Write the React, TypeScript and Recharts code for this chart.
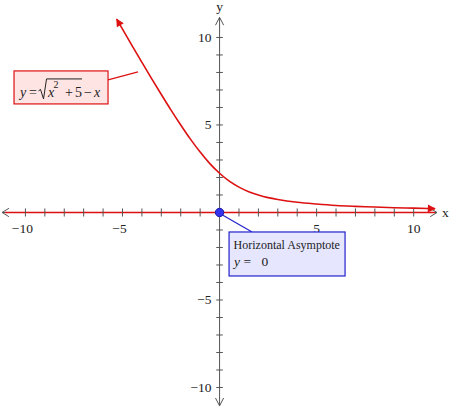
import { ComposedChart, Line, XAxis, YAxis, ReferenceLine, ReferenceDot } from "recharts"

// curve y = sqrt(x^2 + 5) - x
const curveX = [-5.3, -5, -4.5, -4, -3.5, -3, -2.5, -2, -1.5, -1, -0.5, 0, 0.5, 1, 1.5, 2, 2.5, 3, 4, 5, 6, 7, 8, 9, 10, 11.1]
const curveY = [11.05, 10.48, 9.52, 8.58, 7.65, 6.74, 5.85, 5.0, 4.19, 3.45, 2.79, 2.24, 1.79, 1.45, 1.19, 1.0, 0.85, 0.74, 0.58, 0.48, 0.4, 0.35, 0.31, 0.27, 0.25, 0.22]
const xTicks = [-10, -9, -8, -7, -6, -5, -4, -3, -2, -1, 1, 2, 3, 4, 5, 6, 7, 8, 9, 10]
const yTicks = [-10, -9, -8, -7, -6, -5, -4, -3, -2, -1, 1, 2, 3, 4, 5, 6, 7, 8, 9, 10]
const xLabels = [-10, -5, 5, 10]
const yLabels = [10, 5, -5, -10]

const data = curveX.map((x, i) => ({ x, y: curveY[i] }))

const RED = "#dd1111"
const GRAY = "#555555"
const FONT = "Liberation Serif"

const fmt = (v: number) => (v < 0 ? "\u2212" + Math.abs(v) : String(v))

export default function App() {
  return (
    <div style={{ position: "absolute", left: 0, top: 0 }}>
      <ComposedChart width={450} height={412} data={data} margin={{ top: 0, right: 0, bottom: 0, left: 0 }}>
        <defs>
          <marker id="redArrow" viewBox="0 0 10 10" refX="9" refY="5" markerWidth="10" markerHeight="8" markerUnits="userSpaceOnUse" orient="auto-start-reverse">
            <path d="M0,0 L10,5 L0,10 z" fill={RED} />
          </marker>
        </defs>
        <XAxis type="number" dataKey="x" domain={[-11.31, 11.87]} hide allowDataOverflow />
        <YAxis type="number" domain={[-11.4, 12.14]} hide allowDataOverflow />

        {/* axes */}
        <ReferenceLine segment={[{ x: -11.2, y: 0 }, { x: 11.2, y: 0 }]} stroke={GRAY} strokeWidth={1} />
        <ReferenceLine segment={[{ x: 0, y: -11.05 }, { x: 0, y: 11.15 }]} stroke={GRAY} strokeWidth={1} />
        <ReferenceLine segment={[{ x: -11.05, y: 0 }, { x: 11.1, y: 0 }]} stroke={RED} strokeWidth={1.5} />

        {/* axis arrow chevrons */}
        <ReferenceLine segment={[{ x: 11.2, y: 0 }, { x: 10.85, y: 0.24 }]} stroke={GRAY} />
        <ReferenceLine segment={[{ x: 11.2, y: 0 }, { x: 10.85, y: -0.24 }]} stroke={GRAY} />
        <ReferenceLine segment={[{ x: -11.2, y: 0 }, { x: -10.85, y: 0.24 }]} stroke={GRAY} />
        <ReferenceLine segment={[{ x: -11.2, y: 0 }, { x: -10.85, y: -0.24 }]} stroke={GRAY} />
        <ReferenceLine segment={[{ x: 0, y: 11.15 }, { x: 0.21, y: 10.7 }]} stroke={GRAY} />
        <ReferenceLine segment={[{ x: 0, y: 11.15 }, { x: -0.21, y: 10.7 }]} stroke={GRAY} />
        <ReferenceLine segment={[{ x: 0, y: -11.05 }, { x: 0.21, y: -10.6 }]} stroke={GRAY} />
        <ReferenceLine segment={[{ x: 0, y: -11.05 }, { x: -0.21, y: -10.6 }]} stroke={GRAY} />

        {/* tick marks */}
        {xTicks.map((t) => (
          <ReferenceLine key={"xt" + t} segment={[{ x: t, y: -0.23 }, { x: t, y: 0.23 }]} stroke={GRAY} />
        ))}
        {yTicks.map((t) => (
          <ReferenceLine key={"yt" + t} segment={[{ x: -0.17, y: t }, { x: 0.17, y: t }]} stroke={GRAY} />
        ))}

        {/* tick labels */}
        {xLabels.map((t) => (
          <ReferenceDot
            key={"xl" + t}
            x={t}
            y={0}
            r={0}
            shape={(p: any) => (
              <text x={p.cx - (t < 0 ? 3 : 0)} y={p.cy + 21} textAnchor="middle" fontFamily={FONT} fontSize={13.5} fill="#222">
                {fmt(t)}
              </text>
            )}
          />
        ))}
        {yLabels.map((t) => (
          <ReferenceDot
            key={"yl" + t}
            x={0}
            y={t}
            r={0}
            shape={(p: any) => (
              <text x={p.cx - 8} y={p.cy + 4.5} textAnchor="end" fontFamily={FONT} fontSize={13.5} fill="#222">
                {fmt(t)}
              </text>
            )}
          />
        ))}
        <ReferenceDot x={11.2} y={0} r={0} shape={(p: any) => (
          <text x={p.cx + 5} y={p.cy + 4.5} fontFamily={FONT} fontSize={13.5} fill="#222">x</text>
        )} />
        <ReferenceDot x={0} y={11.15} r={0} shape={(p: any) => (
          <text x={p.cx} y={p.cy - 6} textAnchor="middle" fontFamily={FONT} fontSize={13.5} fill="#222">y</text>
        )} />

        {/* the curve */}
        <Line
          type="monotone"
          dataKey="y"
          stroke={RED}
          strokeWidth={1.6}
          dot={false}
          activeDot={false}
          isAnimationActive={false}
          markerStart="url(#redArrow)"
          markerEnd="url(#redArrow)"
        />

        {/* equation label */}
        <ReferenceDot
          x={-4.2}
          y={8.03}
          r={0}
          shape={(p: any) => {
            const cx = p.cx
            const cy = p.cy
            return (
              <g fontFamily={FONT} fontSize={14} fill="#222">
                <line x1={cx - 30} y1={cy + 8} x2={cx} y2={cy} stroke={RED} strokeWidth={1.2} />
                <rect x={cx - 124} y={cy - 1} width={94} height={33} fill="#ffe4e4" stroke={RED} strokeWidth={1.2} />
                <path
                  d={`M${cx - 99.5},${cy + 19} L${cx - 97.5},${cy + 17.5} L${cx - 94.5},${cy + 27} L${cx - 91.5},${cy + 7} L${cx - 56},${cy + 7}`}
                  fill="none"
                  stroke="#222"
                  strokeWidth={1}
                />
                <text y={cy + 25}>
                  <tspan x={cx - 118} fontStyle="italic">y</tspan>
                  <tspan x={cx - 109}>=</tspan>
                  <tspan x={cx - 90} fontStyle="italic">x</tspan>
                  <tspan x={cx - 84.5} dy={-9} fontSize={10}>2</tspan>
                  <tspan x={cx - 73} dy={9}>+</tspan>
                  <tspan x={cx - 63}>5</tspan>
                  <tspan x={cx - 54}>{"\u2212"}</tspan>
                  <tspan x={cx - 44} fontStyle="italic">x</tspan>
                </text>
              </g>
            )
          }}
        />

        {/* asymptote point and note */}
        <ReferenceDot
          x={0}
          y={0}
          r={0}
          shape={(p: any) => {
            const cx = p.cx
            const cy = p.cy
            return (
              <g fontFamily={FONT} fontSize={12} fill="#222">
                <line x1={cx + 2} y1={cy + 2} x2={cx + 32.5} y2={cy + 19.5} stroke="#2222cc" strokeWidth={1.2} />
                <rect x={cx + 9.5} y={cy + 19.5} width={116} height={44} fill="#e6e6ff" stroke="#2222cc" strokeWidth={1.2} />
                <text x={cx + 14} y={cy + 37}>Horizontal Asymptote</text>
                <text y={cy + 54} fontSize={13.5}>
                  <tspan x={cx + 14.5} fontStyle="italic">y</tspan>
                  <tspan x={cx + 24}>=</tspan>
                  <tspan x={cx + 42}>0</tspan>
                </text>
                <circle cx={cx} cy={cy} r={4.2} fill="#3333ee" stroke="#1a1aaa" strokeWidth={1} />
              </g>
            )
          }}
        />
      </ComposedChart>
    </div>
  )
}
